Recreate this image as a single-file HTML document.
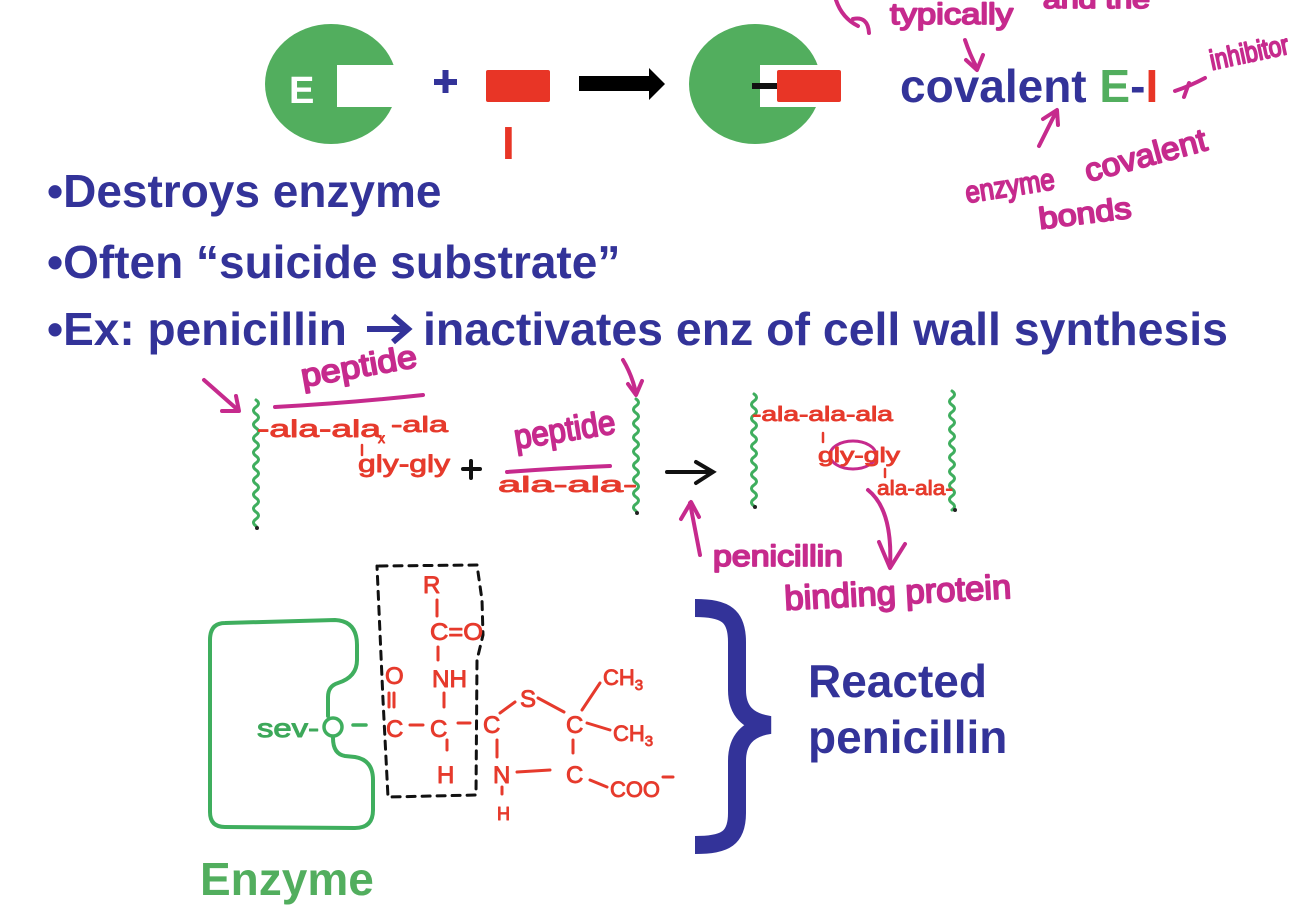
<!DOCTYPE html>
<html>
<head>
<meta charset="utf-8">
<style>
html,body{margin:0;padding:0;background:#fff;}
body{width:1298px;height:920px;overflow:hidden;}
svg{display:block;}
.blue{font-family:"Liberation Sans",Arial,sans-serif;font-weight:bold;font-size:46px;fill:#333399;}
.mag{font-family:"Liberation Sans",Arial,sans-serif;fill:#c62a8d;stroke:#c62a8d;stroke-width:1.8;stroke-linejoin:round;}
.red{font-family:"Liberation Sans",Arial,sans-serif;fill:#e63a2c;stroke:#e63a2c;stroke-width:0.9;stroke-linejoin:round;}
.grn{font-family:"Liberation Sans",Arial,sans-serif;fill:#3da85a;stroke:#3da85a;stroke-width:1;stroke-linejoin:round;}
</style>
</head>
<body>
<svg width="1298" height="920" viewBox="0 0 1298 920" xmlns="http://www.w3.org/2000/svg">
<rect x="0" y="0" width="1298" height="920" fill="#fff"/>

<!-- ===== Top schematic ===== -->
<ellipse cx="331" cy="84" rx="66" ry="60" fill="#52ae5e"/>
<rect x="337" y="65" width="70" height="42" fill="#fff"/>
<text x="289" y="103" font-family="Liberation Sans, Arial, sans-serif" font-weight="bold" font-size="38" fill="#fff">E</text>

<path d="M434,82 H457 M445.5,70 V93" stroke="#333399" stroke-width="6"/>

<rect x="486" y="70" width="64" height="32" rx="2" fill="#e83526"/>
<text x="502" y="159" font-family="Liberation Sans, Arial, sans-serif" font-weight="bold" font-size="46" fill="#e83526">I</text>

<polygon points="579,76 649,76 649,68 665,84 649,100 649,91 579,91" fill="#000"/>

<ellipse cx="755" cy="84" rx="66" ry="60" fill="#52ae5e"/>
<rect x="760" y="65" width="70" height="42" fill="#fff"/>
<rect x="752" y="83" width="27" height="6" fill="#111"/>
<rect x="777" y="70" width="64" height="32" rx="2" fill="#e83526"/>

<text x="900" y="102" class="blue">covalent <tspan fill="#52ae5e">E</tspan>-<tspan fill="#e83526">I</tspan></text>

<!-- magenta annotations top right -->
<g fill="none" stroke="#c62a8d" stroke-width="4" stroke-linecap="round" stroke-linejoin="round">
  <path d="M836,0 Q842,18 858,26"/>
  <path d="M853,19 Q868,16 869,33"/>
  <path d="M965,40 Q970,55 977,68"/>
  <path d="M966,60 L977,70 L983,55"/>
  <path d="M1175,91 Q1190,86 1205,78"/>
  <path d="M1189,83 L1184,97"/>
  <path d="M1039,146 L1056,112"/>
  <path d="M1043,119 L1057,110 L1058,125"/>
</g>
<text class="mag" x="890" y="24" font-size="30" textLength="123" lengthAdjust="spacingAndGlyphs">typically</text>
<text class="mag" x="1043" y="8" font-size="26" textLength="107" lengthAdjust="spacingAndGlyphs">and the</text>
<text class="mag" transform="translate(1212,70) rotate(-12)" x="0" y="0" font-size="28" textLength="80" lengthAdjust="spacingAndGlyphs">inhibitor</text>
<text class="mag" transform="translate(967,203) rotate(-9)" x="0" y="0" font-size="30" textLength="90" lengthAdjust="spacingAndGlyphs">enzyme</text>
<text class="mag" transform="translate(1088,182) rotate(-15)" x="0" y="0" font-size="32" textLength="125" lengthAdjust="spacingAndGlyphs">covalent</text>
<text class="mag" transform="translate(1040,229) rotate(-7)" x="0" y="0" font-size="30" textLength="93" lengthAdjust="spacingAndGlyphs">bonds</text>

<!-- ===== Bullets ===== -->
<text x="47" y="207" class="blue">•Destroys enzyme</text>
<text x="47" y="278" class="blue">•Often “suicide substrate”</text>
<text x="47" y="345" class="blue">•Ex: penicillin</text>
<g fill="none" stroke="#333399" stroke-width="6" stroke-linecap="butt" stroke-linejoin="miter">
  <path d="M367,329 L404,329"/>
  <path d="M393,316 L408,329 L393,342"/>
</g>
<text x="423" y="345" class="blue" textLength="805" lengthAdjust="spacingAndGlyphs">inactivates enz of cell wall synthesis</text>

<!-- ===== Peptide drawing ===== -->
<g fill="none" stroke="#3fae5e" stroke-width="3" stroke-linecap="round">
  <path d="M256,400 q5,3.5 0,7 q-5,3.5 0,7 q5,3.5 0,7 q-5,3.5 0,7 q5,3.5 0,7 q-5,3.5 0,7 q5,3.5 0,7 q-5,3.5 0,7 q5,3.5 0,7 q-5,3.5 0,7 q5,3.5 0,7 q-5,3.5 0,7 q5,3.5 0,7 q-5,3.5 0,7 q5,3.5 0,7 q-5,3.5 0,7 q5,3.5 0,7 q-5,3.5 0,7"/>
  <path d="M636,399 q5,3.5 0,7 q-5,3.5 0,7 q5,3.5 0,7 q-5,3.5 0,7 q5,3.5 0,7 q-5,3.5 0,7 q5,3.5 0,7 q-5,3.5 0,7 q5,3.5 0,7 q-5,3.5 0,7 q5,3.5 0,7 q-5,3.5 0,7 q5,3.5 0,7 q-5,3.5 0,7 q5,3.5 0,7 q-5,3.5 0,7"/>
  <path d="M754,394 q5,3.5 0,7 q-5,3.5 0,7 q5,3.5 0,7 q-5,3.5 0,7 q5,3.5 0,7 q-5,3.5 0,7 q5,3.5 0,7 q-5,3.5 0,7 q5,3.5 0,7 q-5,3.5 0,7 q5,3.5 0,7 q-5,3.5 0,7 q5,3.5 0,7 q-5,3.5 0,7 q5,3.5 0,7 q-5,3.5 0,7"/>
  <path d="M952,391 q5,3.5 0,7 q-5,3.5 0,7 q5,3.5 0,7 q-5,3.5 0,7 q5,3.5 0,7 q-5,3.5 0,7 q5,3.5 0,7 q-5,3.5 0,7 q5,3.5 0,7 q-5,3.5 0,7 q5,3.5 0,7 q-5,3.5 0,7 q5,3.5 0,7 q-5,3.5 0,7 q5,3.5 0,7 q-5,3.5 0,7 q5,3.5 0,7"/>
</g>
<g fill="#222">
  <circle cx="257" cy="528" r="2"/>
  <circle cx="637" cy="513" r="2"/>
  <circle cx="755" cy="507" r="2"/>
  <circle cx="955" cy="510" r="2"/>
</g>

<g fill="none" stroke="#c62a8d" stroke-width="4" stroke-linecap="round" stroke-linejoin="round">
  <path d="M204,380 L238,410"/>
  <path d="M222,411 L239,411 L236,396"/>
  <path d="M275,407 Q350,403 423,395"/>
  <path d="M507,472 Q560,468 610,466"/>
  <path d="M623,360 Q632,375 636,393"/>
  <path d="M628,384 L636,395 L642,381"/>
  <path d="M700,555 L690,503"/>
  <path d="M681,519 L691,502 L699,517"/>
  <ellipse cx="853" cy="455" rx="23" ry="14" stroke-width="3"/>
  <path d="M868,490 Q893,510 890,567"/>
  <path d="M879,542 L890,568 L905,544"/>
</g>
<text class="mag" transform="translate(303,387) rotate(-10)" x="0" y="0" font-size="32" textLength="117" lengthAdjust="spacingAndGlyphs">peptide</text>
<text class="mag" transform="translate(516,449) rotate(-9)" x="0" y="0" font-size="34" textLength="102" lengthAdjust="spacingAndGlyphs">peptide</text>
<text class="mag" x="713" y="566" font-size="30" textLength="130" lengthAdjust="spacingAndGlyphs">penicillin</text>
<text class="mag" transform="translate(785,610) rotate(-3)" x="0" y="0" font-size="34" textLength="227" lengthAdjust="spacingAndGlyphs">binding protein</text>

<text class="red" x="257" y="437" font-size="24" textLength="124" lengthAdjust="spacingAndGlyphs">-ala-ala</text>
<text class="red" x="378" y="443" font-size="14">x</text>
<text class="red" x="391" y="432" font-size="22" textLength="57" lengthAdjust="spacingAndGlyphs">-ala</text>
<text class="red" x="358" y="472" font-size="24" textLength="92" lengthAdjust="spacingAndGlyphs">gly-gly</text>
<text class="red" x="498" y="492" font-size="22" textLength="139" lengthAdjust="spacingAndGlyphs">ala-ala-</text>
<text class="red" x="752" y="421" font-size="20" textLength="141" lengthAdjust="spacingAndGlyphs">-ala-ala-ala</text>
<text class="red" x="818" y="462" font-size="20" textLength="82" lengthAdjust="spacingAndGlyphs">gly-gly</text>
<text class="red" x="877" y="495" font-size="20" textLength="76" lengthAdjust="spacingAndGlyphs">ala-ala-</text>
<g stroke="#e63a2c" stroke-width="2.5" stroke-linecap="round" fill="none">
  <path d="M362,445 L362,455"/>
  <path d="M823,433 L823,442"/>
  <path d="M885,469 L885,477"/>
</g>
<g stroke="#111" stroke-width="4" stroke-linecap="round" fill="none">
  <path d="M463,469 H480 M471,461 V478"/>
  <path d="M667,472 H711"/>
  <path d="M696,462 L713,472 L696,483"/>
</g>

<!-- ===== Enzyme / penicillin structure ===== -->
<path d="M328,716 L328,697 Q328,686 338,683 Q357,677 357,660 L357,645 Q357,621 335,620 L225,623 Q210,623 210,640 L210,812 Q210,827 225,827 L355,828 Q373,828 373,810 L373,780 Q373,760 355,757 L345,756 Q333,754 333,738" fill="none" stroke="#3fae5e" stroke-width="4" stroke-linecap="round" stroke-linejoin="round"/>
<text class="grn" x="257" y="737" font-size="26" textLength="62" lengthAdjust="spacingAndGlyphs">sev-</text>
<circle cx="333" cy="727" r="9" fill="none" stroke="#3fae5e" stroke-width="3.5"/>
<path d="M353,725 L366,725" stroke="#3fae5e" stroke-width="3.5" stroke-linecap="round"/>

<path d="M379,566 L477,565 L482,600 L483,635 L477,660 L476,795 L388,797 L383,700 L377,566" fill="none" stroke="#111" stroke-width="3" stroke-dasharray="8,7" stroke-linecap="round"/>

<g class="red" font-size="24">
  <text x="423" y="593">R</text>
  <text x="430" y="640" textLength="53" lengthAdjust="spacingAndGlyphs">C=O</text>
  <text x="432" y="687" textLength="35" lengthAdjust="spacingAndGlyphs">NH</text>
  <text x="385" y="684">O</text>
  <text x="386" y="737">C</text>
  <text x="430" y="737">C</text>
  <text x="483" y="733">C</text>
  <text x="520" y="707">S</text>
  <text x="566" y="733">C</text>
  <text x="603" y="685" font-size="22">CH<tspan font-size="15" dy="5">3</tspan></text>
  <text x="613" y="741" font-size="22">CH<tspan font-size="15" dy="5">3</tspan></text>
  <text x="566" y="783">C</text>
  <text x="610" y="797" font-size="22" textLength="50" lengthAdjust="spacingAndGlyphs">COO</text>
  <text x="493" y="783">N</text>
  <text x="497" y="820" font-size="18">H</text>
  <text x="437" y="783">H</text>
</g>
<g stroke="#e63a2c" stroke-width="3" stroke-linecap="round" fill="none">
  <path d="M437,600 L437,616"/>
  <path d="M438,647 L438,660"/>
  <path d="M389,693 L389,707 M394,693 L394,707"/>
  <path d="M444,693 L444,707"/>
  <path d="M410,725 L423,725"/>
  <path d="M458,723 L470,723"/>
  <path d="M500,713 L515,702"/>
  <path d="M538,698 L564,712"/>
  <path d="M582,710 L600,683"/>
  <path d="M587,723 L610,730"/>
  <path d="M573,740 L573,753"/>
  <path d="M590,780 L607,787"/>
  <path d="M663,777 L673,777"/>
  <path d="M497,740 L497,757"/>
  <path d="M517,772 L550,770"/>
  <path d="M502,787 L502,794"/>
  <path d="M447,740 L447,750"/>
</g>

<!-- brace -->
<path d="M695,608 C726,608 737,616 737,642 L737,690 C737,711 748,722 770,725 C748,728 737,740 737,761 L737,813 C737,838 726,845 695,845" fill="none" stroke="#333399" stroke-width="18"/>

<text x="808" y="697" class="blue">Reacted</text>
<text x="808" y="753" class="blue">penicillin</text>
<text x="200" y="895" class="blue" style="fill:#52ae5e">Enzyme</text>
</svg>
</body>
</html>
